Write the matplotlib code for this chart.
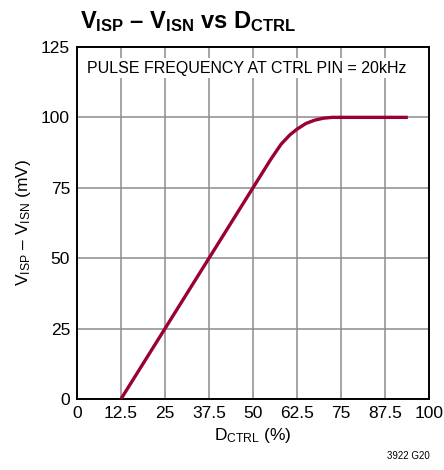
import matplotlib
matplotlib.use("Agg")
import matplotlib.pyplot as plt

# -----------------------------
# Data
# -----------------------------
dctrl = [12.5, 25, 37.5, 50, 55, 58, 60.5, 62.5, 65, 67.5, 70, 72.5, 80, 94]
vsense = [0, 25, 50, 75, 85, 90.5, 93.8, 95.8, 97.8, 99.0, 99.7, 100, 100, 100]
xticks = [0, 12.5, 25, 37.5, 50, 62.5, 75, 87.5, 100]
xticklabels = ["0", "12.5", "25", "37.5", "50", "62.5", "75", "87.5", "100"]
yticks = [0, 25, 50, 75, 100, 125]

font = ["Liberation Sans", "DejaVu Sans"]
plt.rcParams["font.family"] = font
plt.rcParams["mathtext.fontset"] = "custom"
plt.rcParams["mathtext.rm"] = "Liberation Sans"
plt.rcParams["mathtext.bf"] = "Liberation Sans:bold"

fig = plt.figure(figsize=(4.44, 4.70), dpi=100)
ax = fig.add_axes([0.1734, 0.1511, 0.7928, 0.749])

ax.plot(dctrl, vsense, color="#9b0033", linewidth=2.4, solid_capstyle="butt", zorder=3)

ax.set_xlim(0, 100)
ax.set_ylim(0, 125)
ax.set_xticks(xticks)
ax.set_xticklabels(xticklabels)
ax.set_yticks(yticks)
ax.tick_params(length=0, labelsize=12.5, pad=5)
ax.grid(True, color="#8c8c8c", linewidth=1.1)
for s in ax.spines.values():
    s.set_linewidth(1.4)

ax.set_xlabel(r"$\mathregular{D_{CTRL}}$ (%)", fontsize=12.5, labelpad=4)
ax.set_ylabel(r"$\mathregular{V_{ISP}}$ – $\mathregular{V_{ISN}}$ (mV)", fontsize=12.5, labelpad=6)

ax.text(2.8, 117.5, "PULSE FREQUENCY AT CTRL PIN = 20kHz", fontsize=11.5, va="center",
        bbox=dict(facecolor="white", edgecolor="none", pad=2), zorder=4)

fig.text(0.18, 0.955, r"$\mathbf{V_{ISP}}$ – $\mathbf{V_{ISN}}$ vs $\mathbf{D_{CTRL}}$",
         fontsize=17, fontweight="bold", va="center", ha="left")
fig.text(0.968, 0.02, "3922 G20", fontsize=7, ha="right", va="bottom")

fig.savefig("out.png", dpi=100)
plt.close(fig)
